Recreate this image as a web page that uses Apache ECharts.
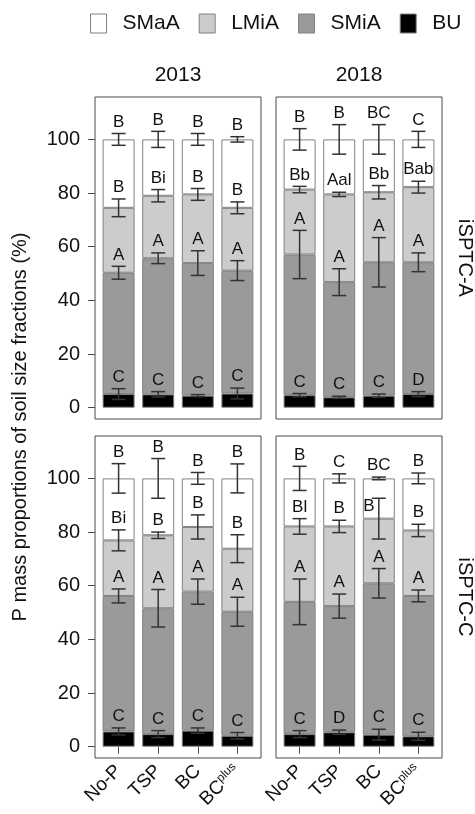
<!DOCTYPE html>
<html>
<head>
<meta charset="utf-8">
<script src="https://cdn.jsdelivr.net/npm/echarts@6/dist/echarts.min.js"></script>
<style>
  html, body { margin: 0; padding: 0; background: #fff; }
  #chart { width: 475px; height: 814px; }
</style>
</head>
<body>
<div id="chart"></div>
<script>
// Categories and labels
const years = ['2013', '2018'];
const methods = ['iSPTC-A', 'iSPTC-C'];
const treatments = ['No-P', 'TSP', 'BC', 'BCplus'];
const fractions = ['SMaA', 'LMiA', 'SMiA', 'BU'];
const yTicks = [0, 20, 40, 60, 80, 100];

// Share of P mass (%) per fraction; rows follow `fractions`, columns follow `treatments`
const valuesA2013 = [
  [25.5, 21.0, 20.5, 25.5],
  [24.2, 23.3, 25.6, 23.4],
  [45.2, 50.7, 49.4, 45.8],
  [5.1, 5.0, 4.5, 5.3]
];
const sdA2013 = [
  [2.2, 3.0, 2.2, 1.0],
  [3.3, 2.3, 2.2, 2.2],
  [2.4, 2.0, 4.6, 3.7],
  [2.0, 1.0, 0.4, 2.0]
];
const lettersA2013 = [
  ['B', 'B', 'B', 'B'],
  ['B', 'Bi', 'B', 'B'],
  ['A', 'A', 'A', 'A'],
  ['C', 'C', 'C', 'C']
];

const valuesA2018 = [
  [18.7, 20.5, 19.7, 17.8],
  [24.2, 32.7, 26.1, 28.0],
  [52.4, 42.9, 49.7, 49.1],
  [4.7, 3.9, 4.5, 5.1]
];
const sdA2018 = [
  [4.0, 5.5, 5.5, 3.0],
  [1.2, 0.8, 2.5, 2.2],
  [9.0, 5.0, 9.2, 3.5],
  [0.6, 0.4, 0.6, 0.9]
];
const lettersA2018 = [
  ['B', 'B', 'BC', 'C'],
  ['Bb', 'Aal', 'Bb', 'Bab'],
  ['A', 'A', 'A', 'A'],
  ['C', 'C', 'C', 'D']
];

const valuesC2013 = [
  [23.1, 21.2, 18.1, 26.2],
  [20.7, 27.2, 24.1, 23.5],
  [50.5, 46.9, 51.8, 46.2],
  [5.7, 4.7, 6.0, 4.1]
];
const sdC2013 = [
  [5.5, 7.4, 2.2, 5.4],
  [3.9, 1.2, 4.5, 5.2],
  [2.6, 7.0, 4.7, 5.4],
  [1.3, 1.3, 1.0, 1.2]
];
const lettersC2013 = [
  ['B', 'B', 'B', 'B'],
  ['Bi', 'B', 'B', 'B'],
  ['A', 'A', 'A', 'A'],
  ['C', 'C', 'C', 'C']
];

const valuesC2018 = [
  [17.9, 17.9, 15.0, 19.4],
  [28.1, 29.7, 24.1, 24.4],
  [49.3, 47.0, 56.4, 52.3],
  [4.7, 5.4, 4.5, 3.9]
];
const sdC2018 = [
  [4.5, 1.7, 0.5, 2.0],
  [2.9, 2.3, 7.6, 2.3],
  [8.5, 4.5, 5.5, 2.2],
  [1.3, 0.8, 2.0, 1.5]
];
const lettersC2018 = [
  ['B', 'C', 'BC', 'B'],
  ['Bl', 'B', 'B', 'B'],
  ['A', 'A', 'A', 'A'],
  ['C', 'D', 'C', 'C']
];

// ---- drawing ----
const FONT = "'Liberation Sans', Arial, Helvetica, sans-serif";
const fills = ['#ffffff', '#cccccc', '#9a9a9a', '#000000'];
const panels = [
  { values: valuesA2013, sd: sdA2013, letters: lettersA2013 },
  { values: valuesA2018, sd: sdA2018, letters: lettersA2018 },
  { values: valuesC2013, sd: sdC2013, letters: lettersC2013 },
  { values: valuesC2018, sd: sdC2018, letters: lettersC2018 }
];
// a letter that would collide with the whisker above it is moved beside its own whisker
// key: panel index | fraction index | treatment index -> [dx, dy] in px
const letterShift = { '3|1|2': [-10, 20] };

// panel frames (box around each panel)
const frames = [
  { left: 95, top: 97, width: 166, height: 322 },
  { left: 276, top: 97, width: 166, height: 322 },
  { left: 95, top: 436, width: 166, height: 322 },
  { left: 276, top: 436, width: 166, height: 322 }
];
const Y_MIN = -4.2, Y_MAX = 115.8;
const PAD = 3.8; // frame padding either side of the category band
// plotting area for the bars sits inside each frame
const plots = frames.map(f => ({ left: f.left + PAD, top: f.top, width: f.width - 2 * PAD, height: f.height }));

const grid = plots.map(b => Object.assign({ show: false }, b))
  .concat(frames.map(b => Object.assign({
    show: true, borderColor: '#4a4a4a', borderWidth: 1, backgroundColor: 'transparent'
  }, b)));

const xAxis = plots.map((b, i) => ({
  type: 'category', gridIndex: i, data: treatments, boundaryGap: true,
  axisLine: { show: false }, splitLine: { show: false },
  axisTick: { show: i >= 2, alignWithLabel: true, length: 7, lineStyle: { color: '#4a4a4a' } },
  axisLabel: {
    show: i >= 2, interval: 0, rotate: 45, margin: 10,
    fontFamily: FONT, fontSize: 19, color: '#111',
    formatter: name => name === 'BCplus' ? 'BC{sup|plus}' : name,
    rich: {
      sup: { fontFamily: FONT, fontSize: 12, verticalAlign: 'top', padding: [0, 0, 9, 0], color: '#111' }
    }
  }
})).concat(frames.map((b, i) => ({
  type: 'value', gridIndex: 4 + i, min: 0, max: 1, show: false
})));

const yAxis = plots.map((b, i) => ({
  type: 'value', gridIndex: i, min: Y_MIN, max: Y_MAX, show: false
})).concat(frames.map((b, i) => ({
  type: 'value', gridIndex: 4 + i, min: Y_MIN, max: Y_MAX,
  axisLine: { show: false }, splitLine: { show: false },
  axisTick: { show: i % 2 === 0, customValues: yTicks, length: 7, lineStyle: { color: '#4a4a4a' } },
  axisLabel: {
    show: i % 2 === 0, customValues: yTicks, margin: 15,
    fontFamily: FONT, fontSize: 20, color: '#111'
  }
})));

const series = [];
panels.forEach((p, pi) => {
  // stacked from bottom (BU) to top (SMaA)
  for (let f = fractions.length - 1; f >= 0; f--) {
    series.push({
      type: 'bar', name: fractions[f], xAxisIndex: pi, yAxisIndex: pi,
      stack: 'panel' + pi, barWidth: 32, silent: true,
      itemStyle: { color: fills[f], borderColor: '#808080', borderWidth: 1 },
      data: p.values[f],
      z: 2
    });
  }
  // error bars and significance letters at each segment top
  const items = [];
  const labels = [];
  const shifts = [];
  for (let f = 0; f < fractions.length; f++) {
    for (let i = 0; i < treatments.length; i++) {
      let top = 0;
      for (let k = f; k < fractions.length; k++) top += p.values[k][i];
      items.push([i, top, p.sd[f][i]]);
      labels.push(p.letters[f][i]);
      shifts.push(letterShift[pi + '|' + f + '|' + i] || [0, 0]);
    }
  }
  series.push({
    type: 'custom', xAxisIndex: pi, yAxisIndex: pi, silent: true, z: 5,
    data: items,
    renderItem: (params, api) => {
      const x = api.value(0), top = api.value(1), sd = api.value(2);
      const hi = api.coord([x, top + sd]);
      const lo = api.coord([x, top - sd]);
      const cap = 7;
      const ls = { stroke: '#333', lineWidth: 1.5 };
      const sh = shifts[params.dataIndex];
      return {
        type: 'group',
        children: [
          { type: 'line', shape: { x1: hi[0], y1: hi[1], x2: lo[0], y2: lo[1] }, style: ls },
          { type: 'line', shape: { x1: hi[0] - cap, y1: hi[1], x2: hi[0] + cap, y2: hi[1] }, style: ls },
          { type: 'line', shape: { x1: lo[0] - cap, y1: lo[1], x2: lo[0] + cap, y2: lo[1] }, style: ls },
          {
            type: 'text', x: hi[0] + sh[0], y: hi[1] - 3 + sh[1],
            style: {
              text: labels[params.dataIndex], fill: '#111',
              font: '17px ' + FONT, align: 'center', verticalAlign: 'bottom'
            }
          }
        ]
      };
    }
  });
});

const centerX = b => b.left + b.width / 2;
const graphic = [
  { type: 'text', x: centerX(frames[0]), y: 75, style: { text: years[0], font: '21px ' + FONT, fill: '#111', align: 'center', verticalAlign: 'middle' } },
  { type: 'text', x: centerX(frames[1]), y: 75, style: { text: years[1], font: '21px ' + FONT, fill: '#111', align: 'center', verticalAlign: 'middle' } },
  { type: 'text', x: 465, y: frames[1].top + frames[1].height / 2, rotation: -Math.PI / 2,
    style: { text: methods[0], font: '20px ' + FONT, fill: '#111', align: 'center', verticalAlign: 'middle' } },
  { type: 'text', x: 465, y: frames[3].top + frames[3].height / 2, rotation: -Math.PI / 2,
    style: { text: methods[1], font: '20px ' + FONT, fill: '#111', align: 'center', verticalAlign: 'middle' } },
  { type: 'text', x: 20, y: 427, rotation: Math.PI / 2,
    style: { text: 'P mass proportions of soil size fractions (%)', font: '20px ' + FONT, fill: '#111', align: 'center', verticalAlign: 'middle' } }
];

const chart = echarts.init(document.getElementById('chart'), null, { renderer: 'canvas' });
chart.setOption({
  animation: false,
  backgroundColor: '#ffffff',
  legend: {
    left: 90, top: 13, padding: 0,
    data: fractions, icon: 'rect', itemWidth: 16, itemHeight: 19, itemGap: 19,
    selectedMode: false,
    itemStyle: { borderColor: '#808080', borderWidth: 1 },
    textStyle: { fontFamily: FONT, fontSize: 21, color: '#111', padding: [0, 0, 0, 11] }
  },
  grid, xAxis, yAxis, series, graphic
});
</script>
</body>
</html>
